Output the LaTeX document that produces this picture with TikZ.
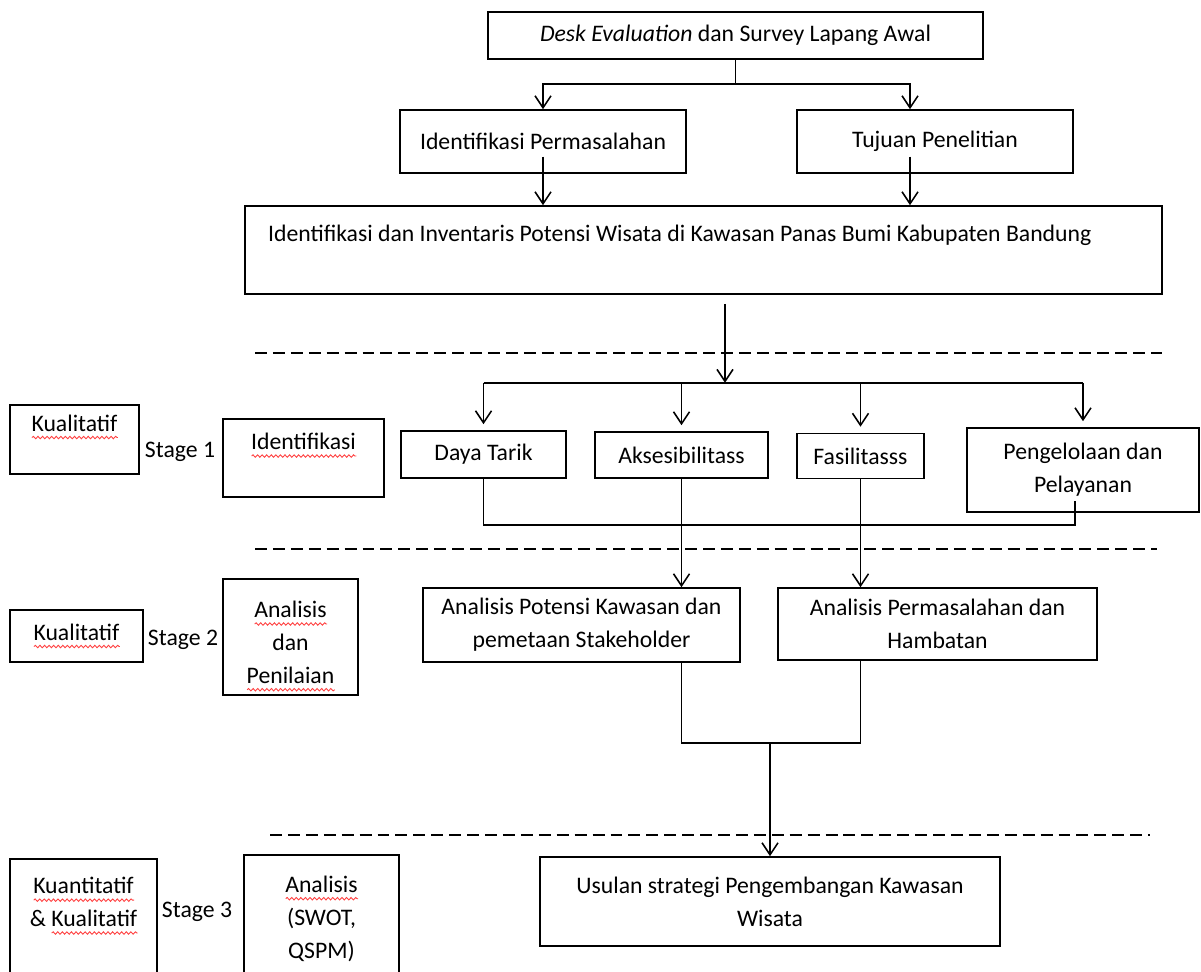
\documentclass[tikz,border=0pt]{standalone}
\usepackage{fontspec}
\setmainfont{Carlito}
\usetikzlibrary{arrows.meta,decorations.pathmorphing}

% garis bergelombang merah (tanda ejaan)
\newlength\salahlen
\newcommand\salah[1]{\settowidth\salahlen{#1}%
  \makebox[0pt][l]{\raisebox{-4.5pt}{\tikz\draw[red!75,line width=0.5pt,decorate,
    decoration={snake,amplitude=0.7pt,segment length=2.6pt}] (0pt,0pt) -- (\salahlen,0pt);}}#1}
\newcommand\teks{\fontsize{13.5}{18.7}\selectfont}

\begin{document}
\begin{tikzpicture}[x=0.02cm,y=-0.02cm,
  kotak/.style={draw,line width=0.9pt,align=center,font=\teks,inner sep=2pt},
  teks/.style={align=center,font=\teks,inner sep=0pt},
  hubung/.style={line width=0.9pt},
  panah/.style={hubung,->},
  garis/.style={line width=1.4pt,dash pattern=on 6.8pt off 3.4pt},
  >={Straight Barb[length=2.4mm,width=3.2mm]}]

  % Batas gambar
  \useasboundingbox[fill=white] (0,0) rectangle (1201,971);

  % Kotak alur utama
  \node[kotak,minimum width=9.9cm,minimum height=0.94cm] (desk) at (735.5,35.5)
    {\textit{Desk Evaluation} dan Survey Lapang Awal};
  \node[kotak,minimum width=5.72cm,minimum height=1.26cm] (masalah) at (543,141.5)
    {Identifikasi Permasalahan};
  \node[kotak,minimum width=5.52cm,minimum height=1.26cm] (tujuan) at (935,141.5)
    {Tujuan Penelitian};
  \node[kotak,align=flush left,text width=17.42cm,minimum width=18.34cm,minimum height=1.76cm] (inventaris) at (703.5,250)
    {Identifikasi dan Inventaris Potensi Wisata di Kawasan Panas Bumi Kabupaten Bandung\\~};

  % Stage 1
  \node[kotak,minimum width=3.30cm,minimum height=0.94cm] (daya) at (483.5,454.5) {Daya Tarik};
  \node[kotak,minimum width=3.46cm,minimum height=0.92cm] (akses) at (681.5,455) {Aksesibilitass};
  \node[kotak,minimum width=2.54cm,minimum height=0.90cm] (fasil) at (860.5,456) {Fasilitasss};
  \node[kotak,minimum width=4.64cm,minimum height=1.68cm] (kelola) at (1083,470)
    {Pengelolaan dan\\Pelayanan};

  % Stage 2
  \node[kotak,minimum width=6.34cm,minimum height=1.48cm] (potensi) at (581.5,625)
    {Analisis Potensi Kawasan dan\\pemetaan Stakeholder};
  \node[kotak,minimum width=6.38cm,minimum height=1.44cm] (hambatan) at (937.5,624)
    {Analisis Permasalahan dan\\Hambatan};

  % Stage 3
  \node[kotak,minimum width=9.2cm,minimum height=1.78cm] (usulan) at (770,901.5)
    {Usulan strategi Pengembangan Kawasan\\Wisata};

  % Kolom kiri: metode dan tahap
  \node[kotak,minimum width=2.58cm,minimum height=1.38cm] (metode1) at (74.5,439.5) {\salah{Kualitatif}\\~};
  \node[teks] (tahap1) at (180,452) {Stage 1};
  \node[kotak,minimum width=3.22cm,minimum height=1.56cm] (ident) at (303.5,458) {\salah{Identifikasi}\\~};

  \node[kotak,minimum width=2.66cm,minimum height=1.04cm] (metode2) at (76.5,636) {\salah{Kualitatif}};
  \node[teks] (tahap2) at (183,640) {Stage 2};
  \node[kotak,minimum width=2.70cm,minimum height=2.0cm] (anpen) at (290.5,637)
    {\rule{0pt}{20pt}\salah{Analisis}\\dan\\\salah{Penilaian}};

  \node[kotak,minimum width=2.94cm,minimum height=3.04cm] (metode3) at (83.5,935)
    {\salah{Kuantitatif}\\\& \salah{Kualitatif}\\~\\~};
  \node[teks] (tahap3) at (197,912) {Stage 3};
  \node[kotak,minimum width=3.10cm,minimum height=3.14cm] (swot) at (321.5,933.5)
    {\salah{Analisis}\\(SWOT,\\QSPM)\\~};

  % Garis putus-putus pemisah tahap
  \draw[garis] (255,353) -- (1162,353);
  \draw[garis] (255,549) -- (1157,549);
  \draw[garis] (270,835) -- (1150,835);

  % Panah alur utama
  \draw[hubung] (desk.south) -- ++(0,24) coordinate (pecah1);
  \draw[panah] (pecah1) -| (masalah.north);
  \draw[panah] (pecah1) -| ([xshift=-0.5cm]tujuan.north);
  \draw[panah] ([yshift=-0.3cm]masalah.center) -- (masalah.center |- inventaris.north);
  \draw[panah] ([xshift=-0.5cm,yshift=-0.3cm]tujuan.center) -- ([xshift=-0.5cm]tujuan.center |- inventaris.north);

  % Cabang ke Stage 1
  \draw[panah] ([xshift=0.43cm,yshift=-0.18cm]inventaris.south) -- ++(0,79) coordinate (pecah2);
  \draw[hubung] (pecah2 -| daya.north) -- (pecah2 -| kelola.north);
  \foreach \n in {daya,akses,fasil,kelola}
    \draw[panah,shorten >=0.12cm] (pecah2 -| \n.north) -- (\n.north);

  % Gabungan Stage 1 ke Stage 2
  \draw[hubung] (daya.south) -- ++(0,46) -| ([xshift=-0.16cm,yshift=0.24cm]kelola.south);
  \draw[panah] (akses.south) -- (akses.south |- potensi.north);
  \draw[panah] (fasil.south) -- (fasil.south |- hambatan.north);

  % Gabungan Stage 2 ke Stage 3
  \draw[hubung] (akses.south |- potensi.south) -- ++(0,80) coordinate (gabung) -| (fasil.south |- hambatan.south);
  \draw[panah] (usulan.north |- gabung) -- (usulan.north);

\end{tikzpicture}
\end{document}
